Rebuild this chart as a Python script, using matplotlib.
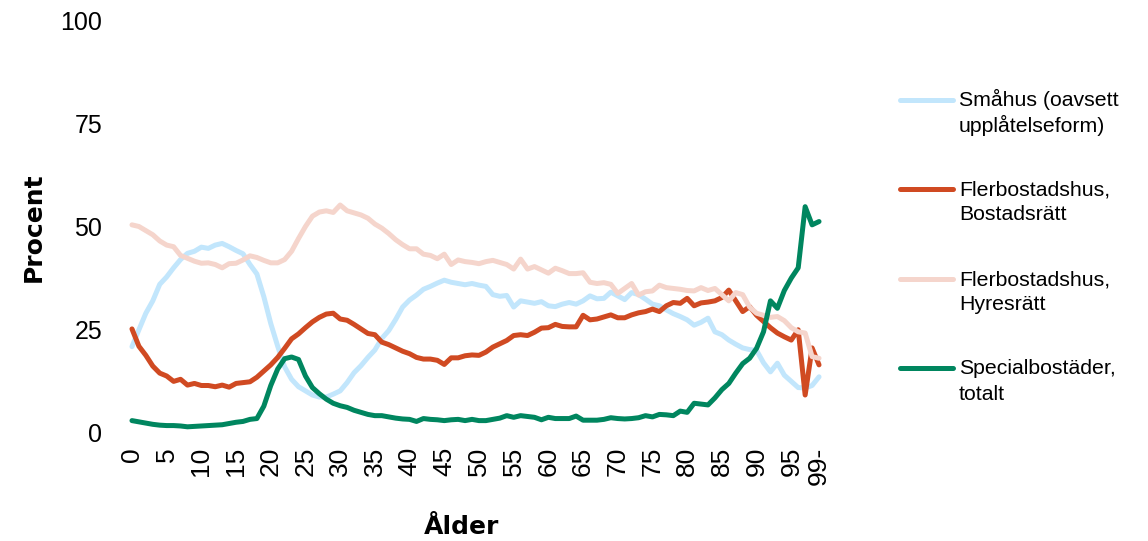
import matplotlib
matplotlib.use("Agg")
import matplotlib.pyplot as plt
from matplotlib.lines import Line2D

ages = list(range(100))
xtick_pos = [0, 5, 10, 15, 20, 25, 30, 35, 40, 45, 50, 55, 60, 65, 70, 75, 80, 85, 90, 95, 99]
xtick_labels = ["0", "5", "10", "15", "20", "25", "30", "35", "40", "45", "50", "55",
                "60", "65", "70", "75", "80", "85", "90", "95", "99-"]
ytick_pos = [0, 25, 50, 75, 100]

smahus = [20.9, 25, 29, 32, 36, 37.8, 40, 42, 43.5, 44,
          45, 44.7, 45.5, 45.9, 45.1, 44.2, 43.4, 40.8, 38.5, 33,
          26.5, 21, 16, 13, 11.2, 10.2, 9.2, 8.7, 8.7, 9.4,
          10.2, 12.2, 14.6, 16.3, 18.3, 20.1, 22.9, 24.8, 27.5, 30.5,
          32.2, 33.4, 34.8, 35.5, 36.3, 37, 36.5, 36.2, 35.9, 36.2,
          35.8, 35.5, 33.5, 33.1, 33.3, 30.5, 32, 31.7, 31.4, 31.8,
          30.8, 30.6, 31.2, 31.6, 31.2, 32, 33.2, 32.5, 32.6, 34.1,
          33.2, 32.3, 34, 33.5, 32.4, 31.2, 30.8, 29.8, 28.9, 28.2,
          27.4, 26.1, 26.8, 27.8, 24.5, 23.8, 22.5, 21.5, 20.6, 20.2,
          20, 17, 14.8, 16.9, 14, 12.5, 11, 10.9, 11.5, 13.6]

bostadsratt = [25.2, 21, 18.8, 16.2, 14.5, 13.8, 12.5, 13, 11.6, 12,
               11.5, 11.5, 11.2, 11.6, 11.1, 12, 12.2, 12.4, 13.5, 15,
               16.5, 18.3, 20.5, 22.8, 24, 25.5, 26.9, 28, 28.8, 29,
               27.6, 27.3, 26.3, 25.2, 24.1, 23.8, 22, 21.4, 20.6, 19.8,
               19.2, 18.3, 17.9, 17.9, 17.6, 16.6, 18.2, 18.2, 18.7, 18.9,
               18.8, 19.6, 20.8, 21.6, 22.4, 23.6, 23.8, 23.6, 24.4, 25.4,
               25.5, 26.3, 25.8, 25.7, 25.7, 28.5, 27.4, 27.6, 28.1, 28.6,
               27.9, 27.9, 28.6, 29.1, 29.4, 30, 29.4, 30.8, 31.6, 31.4,
               32.6, 30.8, 31.5, 31.7, 32, 32.8, 34.6, 32, 29.4, 30.6,
               28.5, 27, 25.5, 24.2, 23.3, 22.5, 25, 9.2, 20.6, 16.5]

hyresratt = [50.4, 50, 49, 48, 46.5, 45.5, 45.1, 43, 42.3, 41.6,
             41.1, 41.2, 40.8, 40, 41, 41.1, 41.9, 42.9, 42.5, 41.8,
             41.2, 41.2, 42, 44, 47.1, 50, 52.5, 53.5, 53.8, 53.4,
             55.2, 53.8, 53.3, 52.8, 52, 50.6, 49.6, 48.3, 46.8, 45.6,
             44.6, 44.6, 43.3, 43, 42.2, 43.3, 40.8, 41.9, 41.5, 41.3,
             41, 41.5, 41.8, 41.3, 40.8, 39.7, 42.1, 39.7, 40.3, 39.5,
             38.7, 39.9, 39.3, 38.6, 38.6, 38.8, 36.5, 36.2, 36.4, 36,
             33.8, 35, 36.2, 33.4, 34.2, 34.4, 35.8, 35.2, 35, 34.8,
             34.5, 34.4, 35.2, 34.5, 35, 33.5, 32, 34, 33.5, 30.5,
             29, 28.5, 28, 28.2, 27.2, 25.5, 24.5, 24.2, 18.5, 18.1]

special = [3, 2.7, 2.4, 2.1, 1.9, 1.8, 1.8, 1.7, 1.5, 1.6,
           1.7, 1.8, 1.9, 2, 2.3, 2.6, 2.8, 3.3, 3.5, 6.5,
           11.5, 15.5, 18, 18.4, 17.8, 13.8, 11, 9.5, 8.2, 7.2,
           6.6, 6.2, 5.5, 5, 4.5, 4.2, 4.2, 3.9, 3.6, 3.4,
           3.3, 2.8, 3.5, 3.3, 3.2, 3, 3.2, 3.3, 3, 3.3,
           3, 3, 3.3, 3.6, 4.2, 3.8, 4.2, 4, 3.8, 3.2,
           3.8, 3.5, 3.5, 3.5, 4.1, 3.1, 3.1, 3.1, 3.3, 3.7,
           3.5, 3.4, 3.5, 3.7, 4.2, 3.9, 4.5, 4.4, 4.2, 5.3,
           5, 7.2, 7, 6.8, 8.5, 10.5, 12, 14.5, 16.8, 18.1,
           20.5, 24.5, 32, 30.2, 34.5, 37.5, 40, 54.8, 50.4, 51.2]

series = [smahus, bostadsratt, hyresratt, special]
labels = [["Småhus (oavsett", "upplåtelseform)"],
          ["Flerbostadshus,", "Bostadsrätt"],
          ["Flerbostadshus,", "Hyresrätt"],
          ["Specialbostäder,", "totalt"]]
colors = ["#C2E6FC", "#D04A22", "#F5D5CC", "#00865F"]

plt.rcParams['font.family'] = ['Liberation Sans', 'DejaVu Sans']

W, H = 1148, 541
fig = plt.figure(figsize=(W / 100, H / 100), dpi=100)
ax = fig.add_axes([128.5 / W, 108 / H, 694 / W, 413 / H])

for vals, col in zip(series, colors):
    ax.plot(ages, vals, color=col, lw=3.6, solid_capstyle='round', solid_joinstyle='round')

ax.set_xlim(-0.5, 99.5)
ax.set_ylim(0, 100)
ax.set_xticks(xtick_pos)
ax.set_xticklabels(xtick_labels, rotation=90, fontsize=19)
ax.set_yticks(ytick_pos)
ax.set_yticklabels([str(v) for v in ytick_pos], fontsize=18)
ax.tick_params(length=0)
ax.tick_params(axis='x', pad=10)
ax.tick_params(axis='y', pad=19)
for s in ax.spines.values():
    s.set_visible(False)

ax.set_ylabel("Procent", fontsize=18, fontweight='heavy', family='DejaVu Sans')
ax.set_xlabel("Ålder", fontsize=18, fontweight='heavy', family='DejaVu Sans')
ax.yaxis.set_label_coords((46 - 128.5) / 694, (541 - 227 - 108) / 413)
ax.xaxis.set_label_coords((462 - 128.5) / 694, (541 - 515 - 108) / 413)

# legend drawn manually to keep handle aligned with the first text line
leg_y = [100, 189, 279, 368]
for (l1, l2), col, yy in zip(labels, colors, leg_y):
    fig.add_artist(Line2D([900 / W, 953 / W], [1 - yy / H, 1 - yy / H], color=col, lw=3.6,
                          solid_capstyle='round'))
    fig.text(959 / W, 1 - (yy + 6.5) / H, l1, fontsize=15.3, va='baseline', ha='left')
    fig.text(959 / W, 1 - (yy + 31.5) / H, l2, fontsize=15.3, va='baseline', ha='left')

fig.savefig("out.png", dpi=100)
